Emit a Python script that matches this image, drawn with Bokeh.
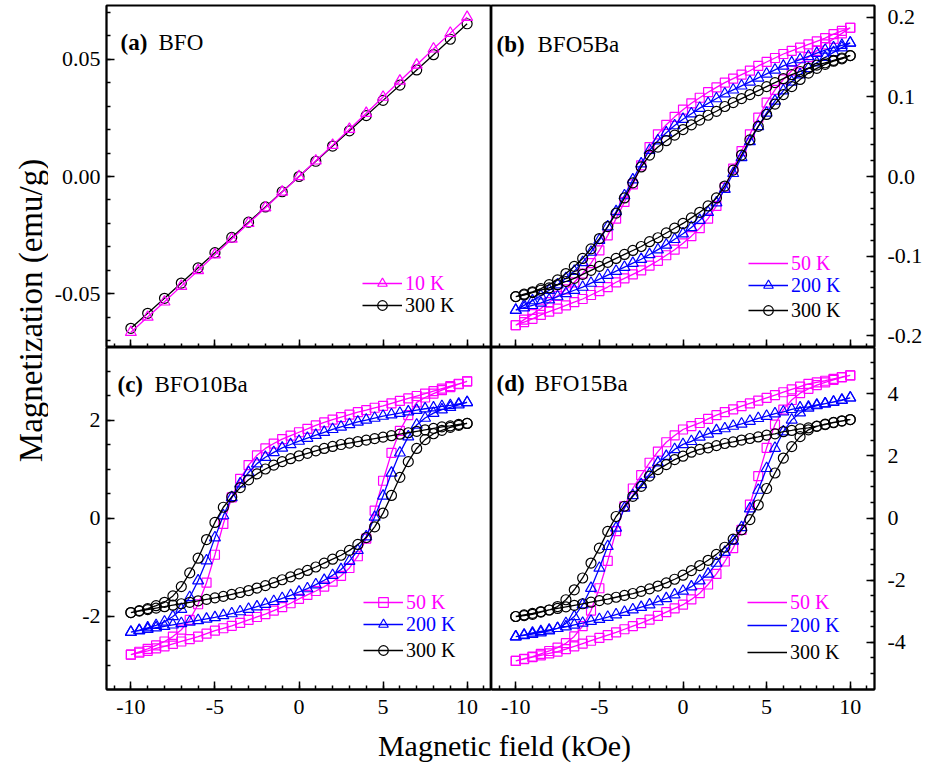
import math
from bokeh.plotting import figure
from bokeh.models import (Range1d, FixedTicker, Legend, LegendItem, Label,
                          LinearAxis, ColumnDataSource)
from bokeh.layouts import row, column
from bokeh.embed import file_html
from bokeh.resources import INLINE

FONT = "Liberation Serif"
MAGENTA = "#ff00ff"
BLUE = "#0000ff"
BLACK = "#000000"

# ---------------- data ----------------
# panel (a) BFO: field steps of 1 kOe
H_A = [-10, -9, -8, -7, -6, -5, -4, -3, -2, -1, 0, 1, 2, 3, 4, 5, 6, 7, 8, 9, 10]
M_A_10K = [-0.0665, -0.0600, -0.0535, -0.0468, -0.0401, -0.0334, -0.0267, -0.0200, -0.0133, -0.0066, 0.0000,
           0.0067, 0.0134, 0.0202, 0.0270, 0.0339, 0.0408, 0.0476, 0.0545, 0.0612, 0.0680]
M_A_300K = [-0.0648, -0.0584, -0.0520, -0.0455, -0.0390, -0.0325, -0.0260, -0.0195, -0.0130, -0.0065, 0.0000,
            0.0065, 0.0130, 0.0195, 0.0260, 0.0325, 0.0390, 0.0455, 0.0520, 0.0586, 0.0652]

# loops: field steps of 0.5 kOe; each branch listed at H (ascending field order)
H = [-10, -9.5, -9, -8.5, -8, -7.5, -7, -6.5, -6, -5.5, -5, -4.5, -4, -3.5, -3, -2.5, -2, -1.5, -1, -0.5, 0,
     0.5, 1, 1.5, 2, 2.5, 3, 3.5, 4, 4.5, 5, 5.5, 6, 6.5, 7, 7.5, 8, 8.5, 9, 9.5, 10]

# (b) BFO5Ba
B50_DESC = [-0.187, -0.180, -0.173, -0.166, -0.158, -0.150, -0.142, -0.133, -0.122, -0.109, -0.093, -0.074, -0.053,
            -0.032, -0.010, 0.014, 0.037, 0.053, 0.065, 0.075, 0.084, 0.092, 0.099, 0.106, 0.112, 0.118, 0.123, 0.128,
            0.133, 0.139, 0.144, 0.149, 0.154, 0.158, 0.162, 0.166, 0.170, 0.174, 0.179, 0.183, 0.187]
B50_ASC = [-0.187, -0.183, -0.179, -0.174, -0.170, -0.166, -0.162, -0.158, -0.154, -0.149, -0.144, -0.139, -0.133,
           -0.128, -0.123, -0.118, -0.112, -0.106, -0.099, -0.092, -0.084, -0.075, -0.065, -0.053, -0.037, -0.014,
           0.010, 0.032, 0.053, 0.074, 0.093, 0.109, 0.122, 0.133, 0.142, 0.150, 0.158, 0.166, 0.173, 0.180, 0.187]
B200_DESC = [-0.168, -0.162, -0.156, -0.150, -0.143, -0.136, -0.128, -0.119, -0.108, -0.095, -0.080, -0.063, -0.044,
             -0.024, -0.004, 0.016, 0.033, 0.045, 0.055, 0.064, 0.072, 0.079, 0.086, 0.092, 0.098, 0.104, 0.109, 0.114,
             0.119, 0.124, 0.129, 0.134, 0.139, 0.143, 0.147, 0.151, 0.155, 0.159, 0.162, 0.165, 0.168]
B200_ASC = [-0.168, -0.165, -0.162, -0.159, -0.155, -0.151, -0.147, -0.143, -0.139, -0.134, -0.129, -0.124, -0.119,
            -0.114, -0.109, -0.104, -0.098, -0.092, -0.086, -0.079, -0.072, -0.064, -0.055, -0.045, -0.033, -0.016,
            0.004, 0.024, 0.044, 0.063, 0.080, 0.095, 0.108, 0.119, 0.128, 0.136, 0.143, 0.150, 0.156, 0.162, 0.168]
B300_DESC = [-0.151, -0.148, -0.145, -0.141, -0.136, -0.130, -0.122, -0.113, -0.103, -0.091, -0.078, -0.063, -0.046,
             -0.027, -0.008, 0.012, 0.027, 0.037, 0.045, 0.052, 0.059, 0.065, 0.071, 0.077, 0.082, 0.088, 0.093, 0.098,
             0.103, 0.108, 0.113, 0.118, 0.123, 0.128, 0.132, 0.136, 0.140, 0.143, 0.146, 0.149, 0.152]
B300_ASC = [-0.151, -0.149, -0.146, -0.143, -0.140, -0.136, -0.132, -0.128, -0.123, -0.118, -0.113, -0.108, -0.103,
            -0.098, -0.093, -0.088, -0.082, -0.077, -0.071, -0.065, -0.059, -0.052, -0.045, -0.037, -0.027, -0.012,
            0.008, 0.027, 0.046, 0.063, 0.078, 0.091, 0.103, 0.113, 0.122, 0.130, 0.136, 0.141, 0.145, 0.148, 0.152]

# (c) BFO10Ba
C50_DESC = [-2.79, -2.73, -2.67, -2.60, -2.52, -2.42, -2.28, -2.08, -1.76, -1.32, -0.75, -0.12, 0.42, 0.80, 1.08,
            1.28, 1.42, 1.52, 1.61, 1.68, 1.75, 1.82, 1.89, 1.95, 2.01, 2.06, 2.11, 2.16, 2.20, 2.25, 2.29, 2.34,
            2.39, 2.44, 2.49, 2.54, 2.59, 2.64, 2.69, 2.74, 2.79]
C50_ASC = [-2.79, -2.75, -2.71, -2.66, -2.62, -2.57, -2.52, -2.47, -2.42, -2.36, -2.30, -2.25, -2.20, -2.14, -2.08,
           -2.02, -1.96, -1.89, -1.82, -1.74, -1.65, -1.57, -1.49, -1.40, -1.30, -1.18, -1.02, -0.78, -0.42, 0.15,
           0.76, 1.33, 1.78, 2.10, 2.36, 2.46, 2.54, 2.61, 2.67, 2.73, 2.79]
C200_DESC = [-2.33, -2.29, -2.24, -2.19, -2.12, -2.01, -1.86, -1.62, -1.28, -0.87, -0.40, 0.05, 0.42, 0.70, 0.93,
             1.11, 1.24, 1.34, 1.43, 1.50, 1.57, 1.63, 1.69, 1.75, 1.81, 1.86, 1.91, 1.96, 2.00, 2.04, 2.08, 2.11,
             2.14, 2.17, 2.20, 2.23, 2.25, 2.28, 2.30, 2.33, 2.36]
C200_ASC = [-2.33, -2.30, -2.27, -2.24, -2.21, -2.18, -2.15, -2.12, -2.09, -2.06, -2.03, -1.99, -1.95, -1.91, -1.86,
            -1.81, -1.76, -1.70, -1.64, -1.58, -1.51, -1.44, -1.36, -1.27, -1.17, -1.05, -0.88, -0.66, -0.38, 0.02,
            0.45, 0.92, 1.33, 1.66, 1.90, 2.04, 2.14, 2.21, 2.26, 2.31, 2.36]
C300_DESC = [-1.93, -1.89, -1.85, -1.79, -1.72, -1.59, -1.40, -1.12, -0.82, -0.44, -0.09, 0.22, 0.43, 0.62, 0.78,
             0.90, 1.00, 1.08, 1.15, 1.21, 1.27, 1.32, 1.37, 1.42, 1.46, 1.50, 1.53, 1.56, 1.59, 1.62, 1.65, 1.68,
             1.71, 1.74, 1.77, 1.80, 1.83, 1.86, 1.88, 1.91, 1.93]
C300_ASC = [-1.93, -1.90, -1.87, -1.84, -1.81, -1.78, -1.75, -1.72, -1.69, -1.66, -1.63, -1.60, -1.56, -1.52, -1.48,
            -1.43, -1.38, -1.32, -1.26, -1.20, -1.14, -1.07, -1.00, -0.92, -0.84, -0.76, -0.66, -0.54, -0.40, -0.18,
            0.10, 0.46, 0.83, 1.15, 1.42, 1.60, 1.72, 1.79, 1.85, 1.89, 1.93]

# (d) BFO15Ba
D50_DESC = [-4.60, -4.53, -4.46, -4.37, -4.28, -4.17, -4.03, -3.81, -3.48, -2.98, -2.26, -1.38, -0.42, 0.38, 0.95,
            1.38, 1.78, 2.14, 2.44, 2.66, 2.85, 2.96, 3.06, 3.19, 3.31, 3.41, 3.50, 3.60, 3.69, 3.78, 3.87, 3.96,
            4.05, 4.14, 4.23, 4.32, 4.37, 4.42, 4.48, 4.54, 4.59]
D50_ASC = [-4.60, -4.54, -4.48, -4.42, -4.36, -4.30, -4.22, -4.13, -4.04, -3.95, -3.86, -3.77, -3.68, -3.58, -3.48,
           -3.38, -3.27, -3.15, -3.03, -2.91, -2.79, -2.62, -2.42, -2.14, -1.80, -1.40, -0.97, -0.38, 0.43, 1.35,
           2.26, 3.01, 3.49, 3.80, 4.02, 4.16, 4.28, 4.37, 4.45, 4.53, 4.59]
D200_DESC = [-3.82, -3.78, -3.74, -3.69, -3.63, -3.55, -3.39, -3.17, -2.79, -2.26, -1.61, -0.91, -0.32, 0.32, 0.73,
             1.08, 1.42, 1.78, 1.99, 2.21, 2.37, 2.47, 2.61, 2.71, 2.82, 2.88, 2.96, 3.03, 3.12, 3.21, 3.28, 3.36,
             3.42, 3.50, 3.55, 3.58, 3.64, 3.68, 3.73, 3.79, 3.87]
D200_ASC = [-3.82, -3.76, -3.70, -3.65, -3.60, -3.55, -3.50, -3.44, -3.38, -3.32, -3.26, -3.19, -3.11, -3.03, -2.95,
            -2.87, -2.79, -2.69, -2.59, -2.47, -2.35, -2.21, -2.02, -1.80, -1.45, -1.10, -0.74, -0.30, 0.30, 0.90,
            1.60, 2.25, 2.78, 3.16, 3.39, 3.54, 3.62, 3.68, 3.74, 3.80, 3.87]
D300_DESC = [-3.17, -3.14, -3.10, -3.03, -2.96, -2.85, -2.63, -2.31, -1.93, -1.45, -0.97, -0.43, 0.05, 0.38, 0.70,
             1.02, 1.35, 1.56, 1.72, 1.88, 1.99, 2.12, 2.21, 2.26, 2.33, 2.40, 2.45, 2.51, 2.56, 2.61, 2.67, 2.71,
             2.78, 2.82, 2.87, 2.90, 2.96, 3.01, 3.07, 3.12, 3.17]
D300_ASC = [-3.17, -3.12, -3.07, -3.01, -2.96, -2.91, -2.86, -2.81, -2.76, -2.71, -2.66, -2.61, -2.55, -2.49, -2.43,
            -2.36, -2.28, -2.19, -2.09, -1.97, -1.84, -1.69, -1.53, -1.36, -1.17, -0.94, -0.68, -0.38, -0.05, 0.42,
            0.95, 1.45, 1.93, 2.30, 2.62, 2.84, 2.95, 3.02, 3.08, 3.13, 3.17]

# ---------------- axes / ticks ----------------
X_RANGE = (-11.45, 11.45)
X_MAJOR = [-10, -5, 0, 5, 10]
X_LABELS = ["-10", "-5", "0", "5", "10"]
X_MINOR = [-11, -10, -9, -8, -7, -6, -5, -4, -3, -2, -1, 0, 1, 2, 3, 4, 5, 6, 7, 8, 9, 10, 11]

Y_A_RANGE = (-0.073, 0.073)
Y_A_MAJOR = [-0.05, 0, 0.05]
Y_A_LABELS = ["-0.05", "0.00", "0.05"]
Y_A_MINOR = [-0.07, -0.06, -0.05, -0.04, -0.03, -0.02, -0.01, 0, 0.01, 0.02, 0.03, 0.04, 0.05, 0.06, 0.07]

Y_B_RANGE = (-0.215, 0.215)
Y_B_MAJOR = [-0.2, -0.1, 0, 0.1, 0.2]
Y_B_LABELS = ["-0.2", "-0.1", "0.0", "0.1", "0.2"]
Y_B_MINOR = [-0.2, -0.18, -0.16, -0.14, -0.12, -0.1, -0.08, -0.06, -0.04, -0.02, 0, 0.02, 0.04, 0.06, 0.08, 0.1,
             0.12, 0.14, 0.16, 0.18, 0.2]

Y_C_RANGE = (-3.5, 3.48)
Y_C_MAJOR = [-2, 0, 2]
Y_C_LABELS = ["-2", "0", "2"]
Y_C_MINOR = [-3, -2.5, -2, -1.5, -1, -0.5, 0, 0.5, 1, 1.5, 2, 2.5, 3]

Y_D_RANGE = (-5.52, 5.49)
Y_D_MAJOR = [-4, -2, 0, 2, 4]
Y_D_LABELS = ["-4", "-2", "0", "2", "4"]
Y_D_MINOR = [-5, -4.5, -4, -3.5, -3, -2.5, -2, -1.5, -1, -0.5, 0, 0.5, 1, 1.5, 2, 2.5, 3, 3.5, 4, 4.5, 5]

FRAME_H = 342
LINE_W = 1.8
DATA_LW = 1.3
YLAB_W = 48
LEFT_B = 106 - YLAB_W


def style_axis(ax, standoff=0, line=True):
    ax.axis_line_color = BLACK if line else None
    ax.axis_line_width = LINE_W
    ax.major_tick_in = 8
    ax.major_tick_out = 0
    ax.minor_tick_in = 4
    ax.minor_tick_out = 0
    ax.major_tick_line_color = BLACK
    ax.minor_tick_line_color = BLACK
    ax.major_tick_line_width = 1.5
    ax.minor_tick_line_width = 1.5
    ax.major_label_text_font = FONT
    ax.major_label_text_color = BLACK
    ax.major_label_text_font_size = "22px"
    ax.major_label_standoff = standoff


def make_panel(frame_w, yrange, ymajor, yminor, ylabels, yside, bottom_row):
    p = figure(frame_width=frame_w, frame_height=FRAME_H,
               x_range=Range1d(*X_RANGE), y_range=Range1d(*yrange),
               toolbar_location=None, output_backend="svg",
               x_axis_location=None, y_axis_location=None,
               min_border_left=LEFT_B if yside == "left" else 0,
               min_border_right=67 if yside == "right" else 0,
               min_border_top=0 if bottom_row else 5,
               min_border_bottom=36 if bottom_row else 0)
    p.grid.visible = False
    p.outline_line_color = BLACK
    p.outline_line_width = LINE_W
    p.background_fill_color = "white"
    p.border_fill_color = "white"
    if bottom_row:
        xa = LinearAxis(ticker=FixedTicker(ticks=X_MAJOR, minor_ticks=X_MINOR),
                        major_label_overrides=dict(zip(X_MAJOR, X_LABELS)))
        style_axis(xa, 10)
        p.add_layout(xa, "below")
    else:
        # inward ticks without labels (labels only on the bottom row)
        xa1 = LinearAxis(ticker=FixedTicker(ticks=[], minor_ticks=X_MINOR))
        style_axis(xa1)
        p.add_layout(xa1, "below")
        xa2 = LinearAxis(ticker=FixedTicker(ticks=[], minor_ticks=X_MAJOR))
        style_axis(xa2, line=False)
        xa2.minor_tick_in = 8
        p.add_layout(xa2, "below")
    ya = LinearAxis(ticker=FixedTicker(ticks=ymajor, minor_ticks=yminor),
                    major_label_overrides=dict(zip(ymajor, ylabels)))
    style_axis(ya, 6 if yside == "left" else 13)
    p.add_layout(ya, yside)
    return p


def add_loop(p, desc, asc, color, marker, size):
    src = ColumnDataSource(dict(x=H[::-1] + H, y=desc[::-1] + asc))
    lr = p.line("x", "y", source=src, line_color=color, line_width=DATA_LW)
    sr = p.scatter("x", "y", source=src, marker=marker, size=size, line_color=color,
                   fill_color=None, line_width=1.2)
    return lr, sr


def add_legend(p, label, renderers, color, x, y):
    lg = Legend(items=[LegendItem(label=label, renderers=renderers)], location=(x, y),
                border_line_color=None, background_fill_alpha=0, padding=0, margin=0,
                spacing=0, glyph_width=40, glyph_height=24, label_height=24,
                label_standoff=3, label_text_font=FONT, label_text_font_size="20px",
                label_text_color=color, label_text_baseline="middle")
    p.add_layout(lg, "center")


def add_tag(p, letter, name, x1, x2, y):
    p.add_layout(Label(x=x1, y=y, x_units="screen", y_units="screen", text=letter,
                       text_font=FONT, text_font_size="23px", text_font_style="bold",
                       text_color=BLACK, text_baseline="alphabetic"))
    p.add_layout(Label(x=x2, y=y, x_units="screen", y_units="screen", text=name,
                       text_font=FONT, text_font_size="23px", text_color=BLACK,
                       text_baseline="alphabetic"))


# ---- (a)
pa = make_panel(385, Y_A_RANGE, Y_A_MAJOR, Y_A_MINOR, Y_A_LABELS, "left", False)
src_a300 = ColumnDataSource(dict(x=H_A, y=M_A_300K))
src_a10 = ColumnDataSource(dict(x=H_A, y=M_A_10K))
a300_l = pa.line("x", "y", source=src_a300, line_color=BLACK, line_width=DATA_LW)
a300_s = pa.scatter("x", "y", source=src_a300, marker="circle", size=10, line_color=BLACK,
                    fill_color=None, line_width=1.2)
a10_l = pa.line("x", "y", source=src_a10, line_color=MAGENTA, line_width=DATA_LW)
a10_s = pa.scatter("x", "y", source=src_a10, marker="triangle", size=11, line_color=MAGENTA,
                   fill_color=None, line_width=1.2)
add_legend(pa, "10 K", [a10_l, a10_s], MAGENTA, 256, 52)
add_legend(pa, "300 K", [a300_l, a300_s], BLACK, 256, 30)
add_tag(pa, "(a)", "BFO", 14, 52, 305)

# ---- (b)
pb = make_panel(383, Y_B_RANGE, Y_B_MAJOR, Y_B_MINOR, Y_B_LABELS, "right", False)
b50 = add_loop(pb, B50_DESC, B50_ASC, MAGENTA, "square", 9)
b200 = add_loop(pb, B200_DESC, B200_ASC, BLUE, "triangle", 11)
b300 = add_loop(pb, B300_DESC, B300_ASC, BLACK, "circle", 10)
add_legend(pb, "50 K", [b50[0]], MAGENTA, 257, 72)
add_legend(pb, "200 K", list(b200), BLUE, 257, 50)
add_legend(pb, "300 K", list(b300), BLACK, 257, 25)
add_tag(pb, "(b)", "BFO5Ba", 5, 46, 303)

# ---- (c)
pc = make_panel(385, Y_C_RANGE, Y_C_MAJOR, Y_C_MINOR, Y_C_LABELS, "left", True)
c50 = add_loop(pc, C50_DESC, C50_ASC, MAGENTA, "square", 9)
c200 = add_loop(pc, C200_DESC, C200_ASC, BLUE, "triangle", 11)
c300 = add_loop(pc, C300_DESC, C300_ASC, BLACK, "circle", 10)
add_legend(pc, "50 K", list(c50), MAGENTA, 257, 75)
add_legend(pc, "200 K", list(c200), BLUE, 257, 53)
add_legend(pc, "300 K", list(c300), BLACK, 257, 27)
add_tag(pc, "(c)", "BFO10Ba", 11, 48, 305)

# ---- (d)
pd = make_panel(383, Y_D_RANGE, Y_D_MAJOR, Y_D_MINOR, Y_D_LABELS, "right", True)
d50 = add_loop(pd, D50_DESC, D50_ASC, MAGENTA, "square", 9)
d200 = add_loop(pd, D200_DESC, D200_ASC, BLUE, "triangle", 11)
d300 = add_loop(pd, D300_DESC, D300_ASC, BLACK, "circle", 10)
add_legend(pd, "50 K", [d50[0]], MAGENTA, 256, 75)
add_legend(pd, "200 K", [d200[0]], BLUE, 256, 52)
add_legend(pd, "300 K", [d300[0]], BLACK, 256, 25)
add_tag(pd, "(d)", "BFO15Ba", 5, 43, 306)

# ---- shared axis titles
ylab = figure(width=YLAB_W, height=772, x_range=Range1d(0, YLAB_W), y_range=Range1d(0, 772),
              toolbar_location=None, output_backend="svg", min_border=0,
              x_axis_location=None, y_axis_location=None, outline_line_color=None)
ylab.grid.visible = False
ylab.add_layout(Label(x=30, y=462, text="Magnetization (emu/g)", angle=math.pi / 2,
                      text_align="center", text_baseline="middle", text_font=FONT,
                      text_font_size="33px", text_color=BLACK))

xlab = figure(width=941 - YLAB_W, height=47, x_range=Range1d(0, 941 - YLAB_W), y_range=Range1d(0, 47),
              toolbar_location=None, output_backend="svg", min_border=0,
              x_axis_location=None, y_axis_location=None, outline_line_color=None)
xlab.grid.visible = False
xlab.add_layout(Label(x=504 - YLAB_W, y=27, text="Magnetic field (kOe)", text_align="center",
                      text_baseline="middle", text_font=FONT, text_font_size="30px",
                      text_color=BLACK))

layout = row(ylab, column(row(pa, pb), row(pc, pd), xlab))

with open("out.html", "w") as f:
    f.write(file_html(layout, INLINE))
